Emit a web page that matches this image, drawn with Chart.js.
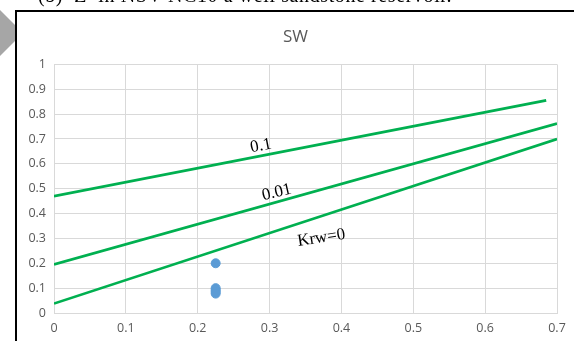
<!DOCTYPE html>
<html>
<head>
<meta charset="utf-8">
<script src="https://cdn.jsdelivr.net/npm/chart.js@4/dist/chart.umd.min.js"></script>
<style>
  html, body { margin: 0; padding: 0; background: #fff; }
  #wrap { position: relative; width: 574px; height: 341px; overflow: hidden; }
  #c { position: absolute; left: 0; top: 0; }
  #caption { position: absolute; left: 38px; top: -16px; font: 20px "Liberation Serif", serif; color: #000; white-space: nowrap; letter-spacing: 0.6px; }
  #tri { position: absolute; left: 0; top: 0; width: 16px; height: 60px; background: #a6a6a6;
         clip-path: polygon(0 10px, 16px 26px, 16px 40px, 0 56px); }
  #frameL { position: absolute; left: 15px; top: 10px; width: 2px; height: 340px; background: #000; }
  #frameT { position: absolute; left: 15px; top: 10px; width: 570px; height: 2px; background: #000; }
</style>
</head>
<body>
<div id="wrap">
  <canvas id="c" width="574" height="341"></canvas>
  <div id="caption">(b)&nbsp;&nbsp;Z&nbsp;&nbsp;in NSV-NC10 a well sandstone reservoir.</div>
  <div id="tri"></div>
  <div id="frameL"></div>
  <div id="frameT"></div>
</div>
<script>
// ---- data ----
const xTickLabels = ["0", "0.1", "0.2", "0.3", "0.4", "0.5", "0.6", "0.7"];
const yTickLabels = ["0", "0.1", "0.2", "0.3", "0.4", "0.5", "0.6", "0.7", "0.8", "0.9", "1"];

const krw01X = [0, 0.685];
const krw01Y = [0.47, 0.855];
const krw001X = [0, 0.7];
const krw001Y = [0.195, 0.762];
const krw0X = [0, 0.7];
const krw0Y = [0.038, 0.70];

const pointsX = [0.225, 0.225, 0.225, 0.225, 0.225];
const pointsY = [0.2, 0.1, 0.092, 0.085, 0.078];

const lineLabelText = ["0.1", "0.01", "Krw=0"];
const lineLabelX = [0.288, 0.31, 0.372];
const lineLabelY = [0.672, 0.485, 0.302];

const toXY = (xs, ys) => xs.map((x, i) => ({ x: x, y: ys[i] }));

const GREEN = "#00b050";
const labelAngles = [-11, -13, -9];
const TICK_FONT = { family: "'Open Sans', 'Liberation Sans', sans-serif", size: 12.5 };

const lineLabels = {
  id: "lineLabels",
  afterDatasetsDraw(chart) {
    const ctx = chart.ctx;
    const xs = chart.scales.x, ys = chart.scales.y;
    ctx.save();
    ctx.fillStyle = "#000";
    ctx.font = '17px "Liberation Serif", serif';
    ctx.textAlign = "center";
    ctx.textBaseline = "middle";
    lineLabelText.forEach((t, i) => {
      ctx.save();
      ctx.translate(xs.getPixelForValue(lineLabelX[i]), ys.getPixelForValue(lineLabelY[i]));
      ctx.rotate(labelAngles[i] * Math.PI / 180);
      ctx.fillText(t, 0, 0);
      ctx.restore();
    });
    ctx.restore();
  }
};

new Chart(document.getElementById("c"), {
  type: "scatter",
  data: {
    datasets: [
      { data: toXY(pointsX, pointsY), backgroundColor: "#5b9bd5", borderColor: "#5b9bd5", pointRadius: 4.5, showLine: false },
      { data: toXY(krw01X, krw01Y), showLine: true, borderColor: GREEN, borderWidth: 2.7, pointRadius: 0, fill: false },
      { data: toXY(krw001X, krw001Y), showLine: true, borderColor: GREEN, borderWidth: 2.7, pointRadius: 0, fill: false },
      { data: toXY(krw0X, krw0Y), showLine: true, borderColor: GREEN, borderWidth: 2.7, pointRadius: 0, fill: false }
    ]
  },
  options: {
    responsive: false,
    animation: false,
    layout: { padding: { left: 17, right: 0, top: 27, bottom: 0 } },
    plugins: {
      legend: { display: false },
      tooltip: { enabled: false },
      title: {
        display: true, text: "SW", color: "#595959",
        font: { family: "'Open Sans', 'Liberation Sans', sans-serif", size: 17, weight: "normal" },
        padding: { top: 0, bottom: 17 }
      }
    },
    scales: {
      x: {
        type: "linear", min: 0, max: 0.7,
        afterBuildTicks(s) { s.ticks = xTickLabels.map(v => ({ value: parseFloat(v) })); },
        afterFit(s) { s.height = 28; s.paddingRight = 17; },
        ticks: {
          color: "#595959", padding: 8, font: TICK_FONT,
          callback: (v, i) => xTickLabels[i], maxRotation: 0
        },
        grid: { color: "#d9d9d9", drawTicks: false, lineWidth: 1 },
        border: { color: "#d9d9d9" }
      },
      y: {
        type: "linear", min: 0, max: 1,
        afterBuildTicks(s) { s.ticks = yTickLabels.map(v => ({ value: parseFloat(v) })); },
        afterFit(s) { s.width = 37; },
        ticks: {
          color: "#595959", padding: 8, font: TICK_FONT,
          callback: (v, i) => yTickLabels[i]
        },
        grid: { color: "#d9d9d9", drawTicks: false, lineWidth: 1 },
        border: { color: "#d9d9d9" }
      }
    }
  },
  plugins: [lineLabels]
});
</script>
</body>
</html>
